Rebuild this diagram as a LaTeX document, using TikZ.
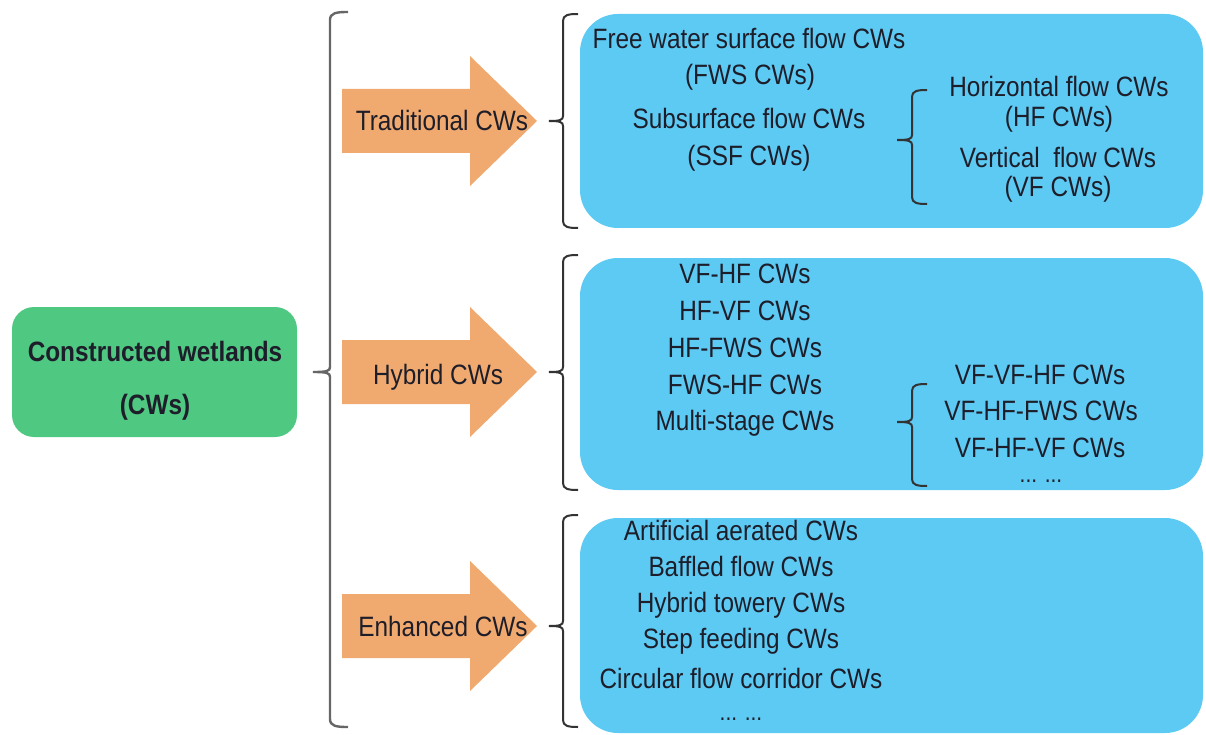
\documentclass[tikz,border=0pt]{standalone}
\usepackage{fontspec}
\setmainfont[FakeStretch=0.87]{Liberation Sans}
\definecolor{ink}{HTML}{1E1E2A}
\definecolor{cwgreen}{HTML}{4FC882}
\definecolor{cwblue}{HTML}{5CCAF3}
\definecolor{cworange}{HTML}{F0A96F}
\definecolor{bigline}{HTML}{666666}
\definecolor{smallline}{HTML}{333333}
\tikzset{
  lbl/.style={font=\fontsize{28}{31}\selectfont, text=ink, inner sep=0pt,
              text height=20pt, text depth=0pt, anchor=center},
  rootlbl/.style={lbl, font=\fontsize{28}{31}\selectfont\bfseries},
  dotslbl/.style={font=\fontsize{24}{26}\selectfont, text=ink, inner sep=0pt, anchor=center},
  rootbox/.style={fill=cwgreen, rounded corners=22pt},
  groupbox/.style={fill=cwblue, rounded corners=38pt},
  bigarrow/.style={fill=cworange},
  outerbrace/.style={draw=bigline, line width=2.4pt},
  innerbrace/.style={draw=smallline, line width=2pt},
}
\begin{document}
\begin{tikzpicture}[x=1pt,y=-1pt]
\useasboundingbox (0,0) rectangle (1206,735);

% root box
\fill[rootbox] (12,307) rectangle (297,437);
\node[rootlbl] (root1) at (155,351) {Constructed wetlands};
\node[rootlbl] (root2) at (155,404) {(CWs)};

% main brace
\coordinate (mainTip) at (313,372);
\draw[outerbrace] (348,12) .. controls (336,12) and (330,13) .. (330,20)
  -- (330,367) .. controls (330,371) and (327,372) .. (mainTip)
  .. controls (327,372) and (330,373) .. (330,377)
  -- (330,719) .. controls (330,726) and (336,727) .. (348,727);

% category arrows
\foreach \c/\nm in {121/arT, 372/arH, 626/arE}{
  \fill[bigarrow] (342,\c-32) -- (470,\c-32) -- (470,\c-65) -- (537,\c)
    -- (470,\c+65) -- (470,\c+32) -- (342,\c+32) -- cycle;
  \coordinate (\nm) at (537,\c);
}
\node[lbl] (trad) at (442,121) {Traditional CWs};
\node[lbl] (hyb) at (438,374) {Hybrid CWs};
\node[lbl] (enh) at (443,626) {Enhanced CWs};

% group boxes
\fill[groupbox] (580,14) rectangle (1203,228);
\fill[groupbox] (580,258) rectangle (1203,490);
\fill[groupbox] (580,518) rectangle (1203,733);

% braces before each group
\foreach \t/\m/\b/\nm in {14/121/228/brT, 255/372/490/brH, 515/626/727/brE}{
  \coordinate (\nm) at (549,\m);
  \draw[innerbrace] (578,\t) .. controls (568,\t) and (563,\t+1) .. (563,\t+7)
    -- (563,\m-5) .. controls (563,\m-1) and (560,\m) .. (\nm)
    .. controls (560,\m) and (563,\m+1) .. (563,\m+5)
    -- (563,\b-7) .. controls (563,\b-1) and (568,\b) .. (578,\b);
}

% traditional group
\node[lbl] (fws) at (749,39) {Free water surface flow CWs};
\node[lbl] (fwsab) at (750,75) {(FWS CWs)};
\node[lbl] (ssf) at (749,119) {Subsurface flow CWs};
\node[lbl] (ssfab) at (749,156) {(SSF CWs)};
\coordinate (ssfTip) at (897,140);
\draw[innerbrace] (927,90) .. controls (917,90) and (912,91) .. (912,97)
  -- (912,135) .. controls (912,139) and (909,140) .. (ssfTip)
  .. controls (909,140) and (912,141) .. (912,145)
  -- (912,197) .. controls (912,203) and (917,204) .. (927,204);
\node[lbl] (hf) at (1059,87) {Horizontal flow CWs};
\node[lbl] (hfab) at (1059,117) {(HF CWs)};
\node[lbl] (vf) at (1058,158) {Vertical\ \ flow CWs};
\node[lbl] (vfab) at (1058,187) {(VF CWs)};

% hybrid group
\node[lbl] (h1) at (745,273) {VF-HF CWs};
\node[lbl] (h2) at (745,310) {HF-VF CWs};
\node[lbl] (h3) at (745,347) {HF-FWS CWs};
\node[lbl] (h4) at (745,384) {FWS-HF CWs};
\node[lbl] (h5) at (745,420) {Multi-stage CWs};
\coordinate (msTip) at (897,422);
\draw[innerbrace] (927,384) .. controls (917,384) and (912,385) .. (912,391)
  -- (912,417) .. controls (912,421) and (909,422) .. (msTip)
  .. controls (909,422) and (912,423) .. (912,427)
  -- (912,479) .. controls (912,485) and (917,486) .. (927,486);
\node[lbl] (m1) at (1040,374) {VF-VF-HF CWs};
\node[lbl] (m2) at (1041,410) {VF-HF-FWS CWs};
\node[lbl] (m3) at (1040,447) {VF-HF-VF CWs};
\node[dotslbl] (m4) at (1041,481) {... ...};

% enhanced group
\node[lbl] (e1) at (741,530) {Artificial aerated CWs};
\node[lbl] (e2) at (741,566) {Baffled flow CWs};
\node[lbl] (e3) at (741,602) {Hybrid towery CWs};
\node[lbl] (e4) at (741,638) {Step feeding CWs};
\node[lbl] (e5) at (741,678) {Circular flow corridor CWs};
\node[dotslbl] (e6) at (741,719) {... ...};
\end{tikzpicture}
\end{document}
